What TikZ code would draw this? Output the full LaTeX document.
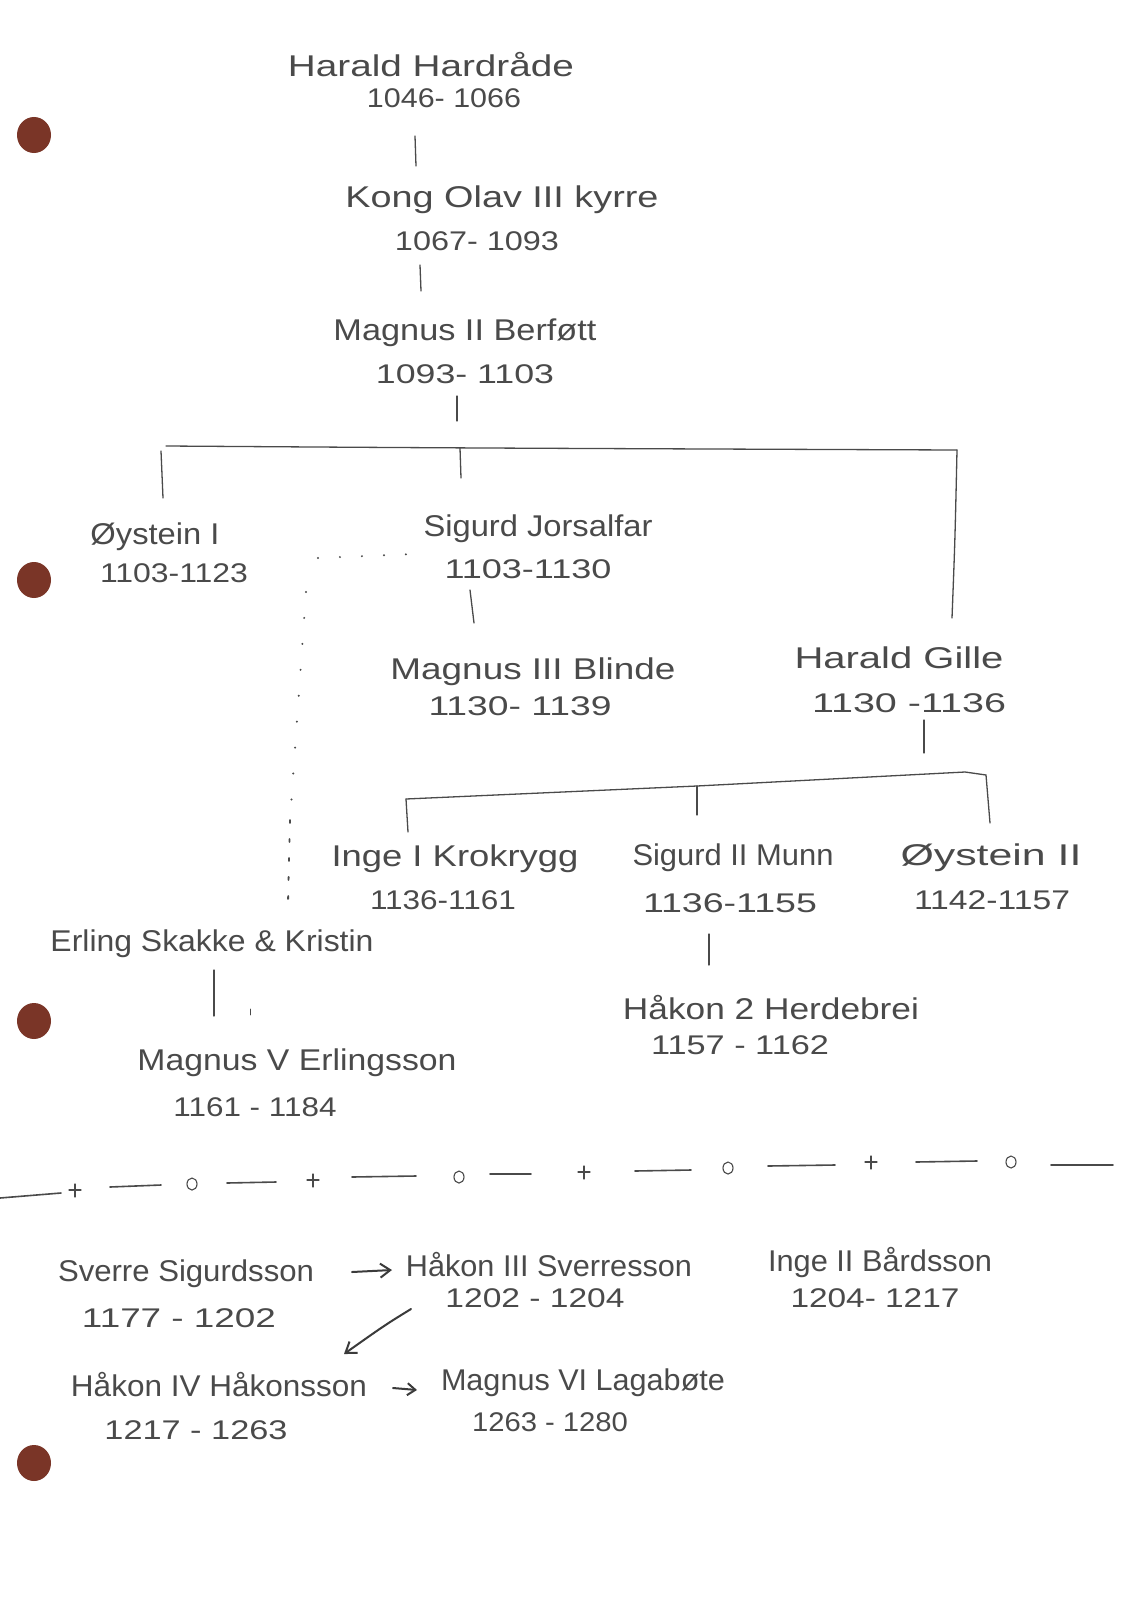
\documentclass[tikz,border=0pt]{standalone}
\usepackage{fontspec}
\setmainfont{Liberation Sans}
\usetikzlibrary{arrows.meta}
\definecolor{pencil}{HTML}{4A4A4A}
\definecolor{holebrown}{HTML}{7A3527}
\newcommand\hw[2]{\resizebox{#1pt}{\height}{#2}}
\begin{document}
\begin{tikzpicture}[x=1pt,y=-1pt,
  pname/.style={font=\fontsize{30}{30}\selectfont,text=pencil,inner sep=0pt,anchor=base},
  pyear/.style={font=\fontsize{27}{27}\selectfont,text=pencil,inner sep=0pt,anchor=base},
  link/.style={draw=pencil,line width=1.3pt,line cap=round},
  dotline/.style={draw=pencil,line width=2.2pt,line cap=round,dash pattern=on 0pt off 22pt},
  arr/.style={draw=pencil!80!black,line width=2pt,line cap=round,-{Straight Barb[length=10pt,width=14pt]}},
  holedot/.style={fill=holebrown,draw=none}]
\useasboundingbox[fill=white] (0,0) rectangle (1131,1600);

% binder holes
\foreach \hy in {135,580,1021,1463}{\fill[holebrown] (34,\hy) ellipse [x radius=17, y radius=18];}

% --- people ---
\node[pname] (hh)  at (431,77)  {\hw{286}{Harald Hardråde}};
\node[pyear] (hhd) at (444,107) {\hw{154}{1046- 1066}};
\node[pname] (ok)  at (502,207) {\hw{313}{Kong Olav III kyrre}};
\node[pyear] (okd) at (477,250) {\hw{164}{1067- 1093}};
\node[pname] (mb)  at (465,340) {\hw{263}{Magnus II Berføtt}};
\node[pyear] (mbd) at (465,383) {\hw{178}{1093- 1103}};
\node[pname] (o1)  at (155,544) {\hw{129}{Øystein I}};
\node[pyear] (o1d) at (174,582) {\hw{148}{1103-1123}};
\node[pname] (sj)  at (538,536) {\hw{229}{Sigurd Jorsalfar}};
\node[pyear] (sjd) at (528,578) {\hw{167}{1103-1130}};
\node[pname] (mbl) at (533,679) {\hw{285}{Magnus III Blinde}};
\node[pyear] (mbld) at (520,715) {\hw{183}{1130- 1139}};
\node[pname] (hg)  at (899,668) {\hw{209}{Harald Gille}};
\node[pyear] (hgd) at (909,712) {\hw{194}{1130 -1136}};
\node[pname] (ik)  at (455,866) {\hw{247}{Inge I Krokrygg}};
\node[pyear] (ikd) at (443,909) {\hw{146}{1136-1161}};
\node[pname] (sm)  at (733,865) {\hw{201}{Sigurd II Munn}};
\node[pyear] (smd) at (730,912) {\hw{174}{1136-1155}};
\node[pname] (o2)  at (991,865) {\hw{181}{Øystein II}};
\node[pyear] (o2d) at (992,909) {\hw{156}{1142-1157}};
\node[pname] (es)  at (212,951) {\hw{323}{Erling Skakke \& Kristin}};
\node[pname] (mv)  at (297,1070) {\hw{319}{Magnus V Erlingsson}};
\node[pyear] (mvd) at (255,1116) {\hw{163}{1161 - 1184}};
\node[pname] (hh2) at (771,1019) {\hw{296}{Håkon 2 Herdebrei}};
\node[pyear] (hh2d) at (740,1054) {\hw{178}{1157 - 1162}};
\node[pname] (ss)  at (186,1281) {\hw{256}{Sverre Sigurdsson}};
\node[pyear] (ssd) at (179,1327) {\hw{194}{1177 - 1202}};
\node[pname] (h3)  at (549,1276) {\hw{286}{Håkon III Sverresson}};
\node[pyear] (h3d) at (535,1307) {\hw{179}{1202 - 1204}};
\node[pname] (ib)  at (880,1271) {\hw{224}{Inge II Bårdsson}};
\node[pyear] (ibd) at (875,1307) {\hw{169}{1204- 1217}};
\node[pname] (h4)  at (219,1396) {\hw{296}{Håkon IV Håkonsson}};
\node[pyear] (h4d) at (196,1439) {\hw{183}{1217 - 1263}};
\node[pname] (m6)  at (583,1390) {\hw{284}{Magnus VI Lagabøte}};
\node[pyear] (m6d) at (550,1431) {\hw{156}{1263 - 1280}};

% --- connector end points ---
\coordinate (a1) at (415,136); \coordinate (a2) at (416,166);
\coordinate (b1) at (420,265); \coordinate (b2) at (421,291);
\coordinate (c1) at (457,396); \coordinate (c2) at (457,421);
\coordinate (barL) at (166,446); \coordinate (barM) at (460,448); \coordinate (barR) at (957,450);
\coordinate (d1) at (161,451); \coordinate (d2) at (163,498);
\coordinate (e2) at (461,478);
\coordinate (f2) at (952,618);
\coordinate (g1) at (470,590); \coordinate (g2) at (474,623);
\coordinate (h1) at (924,720); \coordinate (h2) at (924,753);
\coordinate (bar2L) at (406,799); \coordinate (bar2M) at (697,786); \coordinate (bar2R) at (965,772);
\coordinate (bar2T) at (986,775); \coordinate (i2) at (990,823);
\coordinate (j2) at (408,832); \coordinate (k2) at (697,815);
\coordinate (l1) at (709,934); \coordinate (l2) at (709,965);
\coordinate (m1) at (214,970); \coordinate (m2) at (214,1016);
\coordinate (n1) at (318,558); \coordinate (n2) at (414,554);
\coordinate (p1) at (306,592); \coordinate (p2) at (290,820); \coordinate (p3) at (288,903);
\coordinate (q1) at (352,1272); \coordinate (q2) at (392,1270);
\coordinate (r1) at (411,1309); \coordinate (r2) at (344,1354);
\coordinate (s1) at (393,1388); \coordinate (s2) at (417,1390);

% --- tree lines ---
\draw[link] (a1) -- (a2);
\draw[link] (b1) -- (b2);
\draw[link] (c1) -- (c2);
\draw[link] (barL) .. controls (barM) .. (barR);
\draw[link] (d1) -- (d2);
\draw[link] (barM) -- (e2);
\draw[link] (barR) .. controls (955,540) .. (f2);
\draw[link] (g1) -- (g2);
\draw[link] (h1) -- (h2);
\draw[link] (bar2L) -- (bar2M) -- (bar2R) -- (bar2T) -- (i2);
\draw[link] (bar2L) -- (j2);
\draw[link] (bar2M) -- (k2);
\draw[link] (l1) -- (l2);
\draw[link] (m1) -- (m2);
\coordinate (t1) at (250,1009); \coordinate (t2) at (250,1015);
\draw[link,line width=0.8pt] (t1) -- (t2);
\draw[dotline] (n1) -- (n2);
\draw[dotline,dash pattern=on 0pt off 26pt] (p1) -- (p2);
\draw[link,line width=1.8pt,dash pattern=on 3pt off 16pt] (p2) -- (p3);

% --- arrows ---
\draw[arr] (q1) -- (q2);
\draw[arr] (r1) .. controls (385,1325) .. (r2);
\draw[arr,-{Straight Barb[length=8pt,width=12pt]}] (s1) -- (s2);

% --- divider ---
\begin{scope}[link,line width=1.6pt]
\draw (0,1198) -- (61,1193);
\draw (110,1187) -- (161,1185);
\draw (227,1183) -- (276,1182);
\draw (352,1177) -- (416,1176);
\draw (490,1174) -- (531,1174);
\draw (635,1171) -- (691,1170);
\draw (768,1166) -- (835,1165);
\draw (916,1162) -- (977,1161);
\draw (1051,1165) -- (1113,1165);
\end{scope}
\begin{scope}[link,line width=1.1pt]
\foreach \px/\py in {75/1190,313/1180,584/1172,871/1162}{
  \draw (\px-6,\py) -- (\px+6,\py);
  \draw (\px,\py-6) -- (\px,\py+7);}
\foreach \ox/\oy in {192/1184,459/1177,728/1168,1011/1162}{
  \draw (\ox,\oy) ellipse [x radius=5, y radius=6];}
\end{scope}
\end{tikzpicture}
\end{document}
